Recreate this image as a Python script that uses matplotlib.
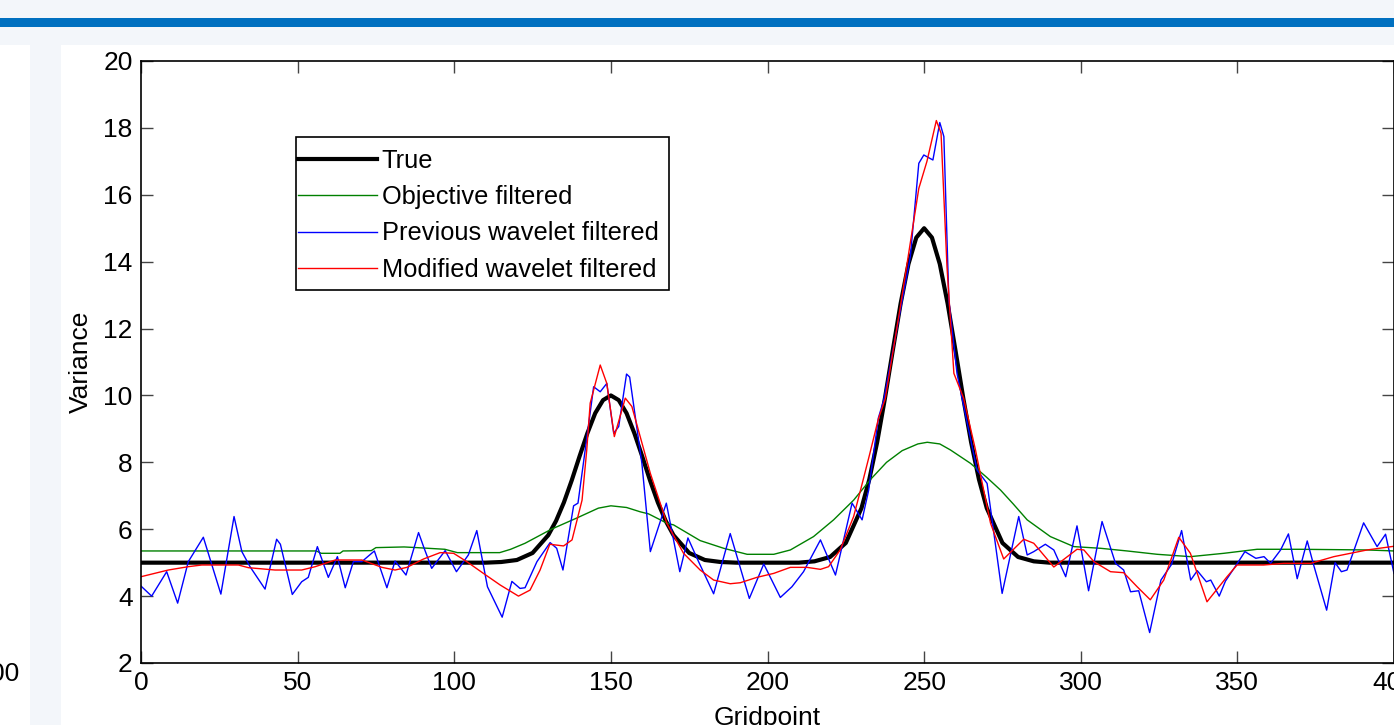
import matplotlib
matplotlib.use("Agg")
import matplotlib.pyplot as plt
from matplotlib.patches import Rectangle

plt.rcParams['font.family'] = ['Liberation Sans', 'DejaVu Sans']

# True variance
true_x = [0, 110, 115, 120, 125, 130, 132.5, 135, 137.5, 140, 142.5, 145, 147.5, 150,
          152.5, 155, 157.5, 160, 162.5, 165, 167.5, 170, 175, 180, 185, 190,
          210, 215, 220, 225, 230, 232.5, 235, 237.5, 240, 242.5, 245, 247.5, 250,
          252.5, 255, 257.5, 260, 262.5, 265, 267.5, 270, 275, 280, 285, 290, 400]
true_y = [5.0, 5.0, 5.02, 5.08, 5.29, 5.82, 6.25, 6.80, 7.46, 8.18, 8.87, 9.47, 9.86, 10.0,
          9.86, 9.47, 8.87, 8.18, 7.46, 6.80, 6.25, 5.82, 5.29, 5.08, 5.02, 5.0,
          5.0, 5.04, 5.17, 5.59, 6.63, 7.49, 8.60, 9.92, 11.35, 12.75, 13.93, 14.72, 15.0,
          14.72, 13.93, 12.75, 11.35, 9.92, 8.60, 7.49, 6.63, 5.59, 5.17, 5.04, 5.0, 5.0]

# Objective filtered
obj_x = [0, 56, 57.5, 63.5, 64.5, 73.5, 75, 84, 88, 97, 101, 114.5, 118, 122.6, 131,
         139, 146, 150, 155, 159.4, 162, 167.9, 170, 178.5, 186, 193.5, 202, 207.3,
         214.7, 221.1, 227.5, 233, 238, 243, 248, 251, 255, 258.4, 264.8, 270, 274.4,
         278.5, 282.9, 290.3, 297.8, 306.3, 314.8, 324.4, 335, 345.7, 356.3, 370,
         391.4, 400]
obj_y = [5.35, 5.35, 5.28, 5.28, 5.35, 5.36, 5.45, 5.47, 5.45, 5.40, 5.30, 5.30, 5.40,
         5.58, 6.00, 6.33, 6.63, 6.70, 6.65, 6.52, 6.46, 6.18, 6.13, 5.66, 5.43, 5.25,
         5.25, 5.38, 5.78, 6.28, 6.87, 7.50, 8.00, 8.35, 8.55, 8.60, 8.55, 8.37, 7.97,
         7.55, 7.17, 6.75, 6.28, 5.78, 5.48, 5.43, 5.35, 5.25, 5.18, 5.28, 5.40, 5.40,
         5.38, 5.35]

# Previous wavelet filtered
prev_x = [0, 3.4, 8.2, 11.7, 15.1, 19.9, 25.5, 29.7, 32.2, 34.8, 39.6, 43.3, 44.5,
          48.3, 51.3, 53.4, 56.3, 59.8, 62.7, 65.2, 67.8, 70.5, 74.5, 78.5, 81.1,
          84.6, 88.6, 90.2, 92.8, 97.1, 100.7, 104.5, 107.2, 110.6, 115.3, 118.4,
          121.0, 122.6, 126.4, 130.6, 132.7, 134.7, 138.1, 139.5, 141.8, 144.5,
          146.6, 148.7, 150.9, 152.5, 155.0, 156.0, 159.9, 162.6, 167.7, 172.0,
          174.6, 178.0, 182.8, 188.1, 194.2, 198.8, 204.1, 207.8, 211.5, 216.9,
          221.7, 227.0, 230.2, 232.3, 235.4, 237.1, 245.6, 248.3, 249.9, 252.8,
          255.0, 256.3, 257.9, 260.5, 262.1, 266.9, 270.1, 274.9, 280.2, 282.9,
          285.0, 288.7, 291.4, 295.2, 298.8, 302.5, 306.8, 311.1, 313.7, 315.9,
          318.5, 322.0, 325.6, 329.0, 332.2, 335.1, 337.2, 340.1, 341.5, 344.2,
          346.2, 350.0, 352.4, 355.9, 358.5, 360.6, 363.8, 366.3, 369.1, 372.3,
          374.2, 378.5, 381.2, 383.2, 385.0, 390.3, 394.6, 397.3, 400.0]
prev_y = [4.30, 4.00, 4.73, 3.79, 5.03, 5.76, 4.06, 6.38, 5.33, 4.88, 4.21, 5.70, 5.55,
          4.05, 4.43, 4.56, 5.48, 4.56, 5.18, 4.25, 5.03, 5.03, 5.35, 4.25, 5.05,
          4.63, 5.90, 5.48, 4.83, 5.36, 4.73, 5.23, 5.96, 4.28, 3.37, 4.44,
          4.23, 4.25, 5.03, 5.60, 5.43, 4.78, 6.70, 6.78, 8.37, 10.26,
          10.11, 10.36, 8.87, 9.07, 10.64, 10.55, 7.97, 5.33, 6.78, 4.73,
          5.74, 5.03, 4.07, 5.87, 3.93, 4.96, 3.96, 4.28, 4.73, 5.68,
          4.63, 6.78, 6.28, 7.17, 9.33, 9.86, 14.15, 16.94, 17.19, 17.04,
          18.16, 17.74, 12.85, 10.66, 9.92, 7.77, 7.37, 4.08, 6.38, 5.23,
          5.33, 5.55, 5.38, 4.58, 6.10, 4.16, 6.23, 4.98, 4.78, 4.13,
          4.16, 2.91, 4.48, 4.95, 5.96, 4.48, 4.76, 4.43, 4.48, 4.00,
          4.45, 4.98, 5.33, 5.13, 5.18, 4.98, 5.38, 5.86, 4.52, 5.65,
          4.98, 3.58, 5.00, 4.73, 4.78, 6.19, 5.48, 5.85, 4.68]

# Modified wavelet filtered
mod_x = [0, 8.7, 15.1, 19.4, 31.1, 34.3, 42.8, 51.3, 55.6, 62.0, 70.5, 76.9, 81.1,
         84.9, 90.2, 95.5, 99.8, 104.0, 109.3, 114.7, 120.5, 124.2, 127.4, 130.5,
         134.9, 137.6, 139.0, 140.8, 142.3, 143.4, 146.6, 148.7, 151.1, 154.6,
         156.7, 162.6, 167.9, 173.2, 178.5, 182.8, 188.1, 191.3, 196.6, 202.0,
         207.3, 212.6, 216.9, 219.5, 223.2, 227.5, 229.7, 232.5, 235.4, 237.6,
         242.4, 248.3, 250.9, 253.9, 255.4, 257.3, 259.5, 262.6, 266.4, 269.0,
         271.2, 275.4, 281.8, 285.0, 291.4, 298.8, 301.0, 304.2, 309.5, 313.7,
         318.0, 322.2, 326.5, 331.3, 335.0, 340.3, 346.7, 349.9, 358.4, 364.8,
         373.4, 380.8, 391.4, 400.0]
mod_y = [4.58, 4.78, 4.88, 4.93, 4.93, 4.85, 4.78, 4.78, 4.88, 5.08, 5.08, 4.86, 4.78,
         4.86, 5.11, 5.30, 5.28, 5.03, 4.68, 4.33, 4.00, 4.18, 4.78, 5.55,
         5.50, 5.68, 6.20, 6.87, 8.37, 9.77, 10.91, 10.36, 8.77, 9.92,
         9.67, 7.67, 6.17, 5.28, 4.78, 4.48, 4.37, 4.40, 4.56, 4.68,
         4.86, 4.86, 4.80, 4.88, 5.38, 6.38, 7.17, 8.20, 9.30, 9.90,
         12.65, 16.19, 17.00, 18.22, 17.84, 13.85, 10.66, 9.92, 8.37, 7.17,
         6.18, 5.11, 5.70, 5.58, 4.87, 5.40, 5.38, 5.03, 4.73, 4.70,
         4.28, 3.89, 4.48, 5.76, 5.28, 3.83, 4.58, 4.93, 4.93, 4.98,
         4.98, 5.18, 5.38, 5.49]

x_ticks = [0, 50, 100, 150, 200, 250, 300, 350, 400]
y_ticks = [2, 4, 6, 8, 10, 12, 14, 16, 18, 20]

W, H = 1394, 725
fig = plt.figure(figsize=(W / 100, H / 100), dpi=100, facecolor='white')

# slide background around the chart
light = '#F3F6FA'
fig.patches.append(Rectangle((0, 1 - 45 / H), 1, 45 / H, transform=fig.transFigure,
                             facecolor=light, edgecolor='none', zorder=0))
fig.patches.append(Rectangle((0, 1 - 26.5 / H), 1, 8.5 / H, transform=fig.transFigure,
                             facecolor='#0070C0', edgecolor='none', zorder=1))
fig.patches.append(Rectangle((30 / W, 0), 31 / W, 1 - 45 / H, transform=fig.transFigure,
                             facecolor=light, edgecolor='none', zorder=0))
# fragment of the neighbouring chart
fig.text(19 / W, 1 - 674 / H, '00', fontsize=19, ha='right', va='center')

ax = fig.add_axes([141 / W, 62 / H, 1253 / W, 602 / H])

ax.plot(true_x, true_y, color='black', linewidth=3, label='True')
ax.plot(obj_x, obj_y, color=(0, 0.5, 0), linewidth=1, label='Objective filtered')
ax.plot(prev_x, prev_y, color='blue', linewidth=1, label='Previous wavelet filtered')
ax.plot(mod_x, mod_y, color='red', linewidth=1, label='Modified wavelet filtered')

ax.set_xlim(0, 400)
ax.set_ylim(2, 20)
ax.set_xticks(x_ticks)
ax.set_yticks(y_ticks)
ax.tick_params(direction='in', length=8.5, width=1, colors='#444444',
               labelcolor='black', labelsize=19, pad=6,
               top=True, right=True)
for sp in ax.spines.values():
    sp.set_linewidth(1.2)
    sp.set_color('black')

ax.set_xlabel('Gridpoint', fontsize=19)
ax.set_ylabel('Variance', fontsize=19)
ax.xaxis.set_label_coords(0.5, (663 - 706) / 602)
ax.yaxis.set_label_coords((93 - 141) / 1253, 0.5)

# legend box (MATLAB style: drawn as a plain rectangle)
bx0, bx1, by0, by1 = 296, 669, 137, 290
ax.add_patch(Rectangle(((bx0 - 141) / 1253, (663 - by1) / 602),
                       (bx1 - bx0) / 1253, (by1 - by0) / 602,
                       transform=ax.transAxes, facecolor='white',
                       edgecolor='black', linewidth=1.2, zorder=4))
leg = ax.legend(loc='upper left', bbox_to_anchor=((298 - 141) / 1253, (663 - 149) / 602),
                fontsize=18.3, frameon=False, borderaxespad=0, borderpad=0,
                handlelength=3.1, handletextpad=0.2, labelspacing=0.48)
leg.set_zorder(5)

fig.savefig('out.png', dpi=100, facecolor=fig.get_facecolor())
